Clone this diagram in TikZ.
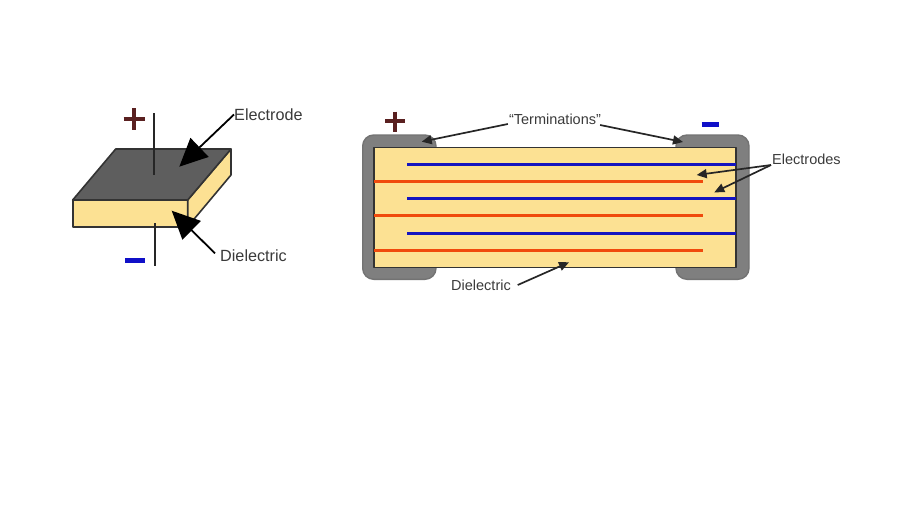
\documentclass[tikz,border=0pt]{standalone}
\usepackage{fontspec}
\setmainfont{Liberation Sans}
\usetikzlibrary{arrows.meta}
\definecolor{dielectric}{HTML}{FCE193}
\definecolor{plate}{HTML}{5E5E5E}
\definecolor{termination}{HTML}{7F7F7F}
\definecolor{plus}{HTML}{5A2020}
\definecolor{minus}{HTML}{1010C8}
\definecolor{layerA}{HTML}{1414C0}
\definecolor{layerB}{HTML}{F04A0C}
\definecolor{caption}{HTML}{3A3A3A}

\begin{document}
\begin{tikzpicture}[
    x=1pt, y=-1pt,
    label/.style = {font=\fontsize{14.5}{16}\selectfont, text=caption, inner sep=0pt},
    solid/.style = {draw=black!80, line width=1.6pt, line join=round},
    wire/.style = {draw=black!85, line width=2.4pt},
    bigarrow/.style = {draw=black, line width=1.8pt, -{Triangle[length=28pt, width=26pt]}},
    smallarrow/.style = {draw=black!85, line width=1.7pt, -{Triangle[length=10pt, width=9pt]}},
    term/.style = {draw=black!55, fill=termination, line width=1.4pt, rounded corners=11pt},
    sign/.style = {line width=4pt}
  ]
  \useasboundingbox (0,0) rectangle (900,506);

  % single plate
  \coordinate (topA) at (115.7,149);
  \coordinate (topB) at (231,149);
  \coordinate (topC) at (187.7,200);
  \coordinate (topD) at (72.7,200);
  \coordinate (botB) at (231,175);
  \coordinate (botC) at (187.7,226.7);
  \coordinate (botD) at (72.7,226.7);
  \draw [solid, fill=dielectric] (topD) -- (topC) -- (botC) -- (botD) -- cycle;
  \draw [solid, fill=dielectric] (topC) -- (topB) -- (botB) -- (botC) -- cycle;
  \draw [solid, fill=plate] (topA) -- (topB) -- (topC) -- (topD) -- cycle;

  \coordinate (wireAa) at (153.7,113);
  \coordinate (wireAb) at (153.7,175);
  \coordinate (wireBa) at (155,223);
  \coordinate (wireBb) at (155,266);
  \draw [wire] (wireAa) -- (wireAb);
  \draw [wire] (wireBa) -- (wireBb);

  \draw [sign, draw=plus] (123.5,118.7) -- (145,118.7) (134.3,108) -- (134.3,129.5);
  \draw [sign, draw=minus, line width=5pt] (125.3,260) -- (144.7,260);

  \node (electrode) [label, anchor=west, font=\fontsize{16.2}{18}\selectfont] at (234,114.5) {Electrode};
  \node (dielectricA) [label, anchor=west, font=\fontsize{16.2}{18}\selectfont] at (220,256) {Dielectric};
  \coordinate (electrodeTip) at (179.3,166.7);
  \coordinate (dielectricTip) at (171.7,210.7);
  \coordinate (dielectricTail) at (215,253.3);
  \draw [bigarrow] (electrode.west) -- (electrodeTip);
  \draw [bigarrow] (dielectricTail) -- (dielectricTip);

  % multilayer
  \draw [term] (362.7,135) rectangle (436,279.3);
  \draw [term] (676,135) rectangle (749,279.3);
  \draw [solid, fill=dielectric] (374,147.5) rectangle (736,267.3);

  \foreach \y in {164.3, 198.7, 233.3}
    \draw [draw=layerA, line width=3.4pt] (407.3,\y) -- (736,\y);
  \foreach \y in {181.3, 215.7, 250.3}
    \draw [draw=layerB, line width=3.4pt] (374,\y) -- (703.3,\y);

  \draw [sign, draw=plus] (385,121.3) -- (405,121.3) (395,111.5) -- (395,131.5);
  \draw [sign, draw=minus, line width=5pt] (701.7,124.3) -- (719,124.3);

  \node (terminations) [label] at (555,119) {``Terminations''};
  \node (electrodes) [label, anchor=west] at (772,159) {Electrodes};
  \node (dielectricB) [label, anchor=west] at (451,285) {Dielectric};

  \coordinate (termTipA) at (421.7,141.7);
  \coordinate (termTipB) at (683,142);
  \coordinate (layerTipA) at (696.7,175);
  \coordinate (layerTipB) at (714.3,192.3);
  \coordinate (bodyTip) at (569,262.3);
  \coordinate (bodyTail) at (517.7,285);
  \draw [smallarrow] (terminations.west) ++(-1,5) -- (termTipA);
  \draw [smallarrow] (terminations.east) ++(-1,6) -- (termTipB);
  \draw [smallarrow] (electrodes.west) ++(-1,6) -- (layerTipA);
  \draw [smallarrow] (electrodes.west) ++(-1,6) -- (layerTipB);
  \draw [smallarrow] (bodyTail) -- (bodyTip);
\end{tikzpicture}
\end{document}
